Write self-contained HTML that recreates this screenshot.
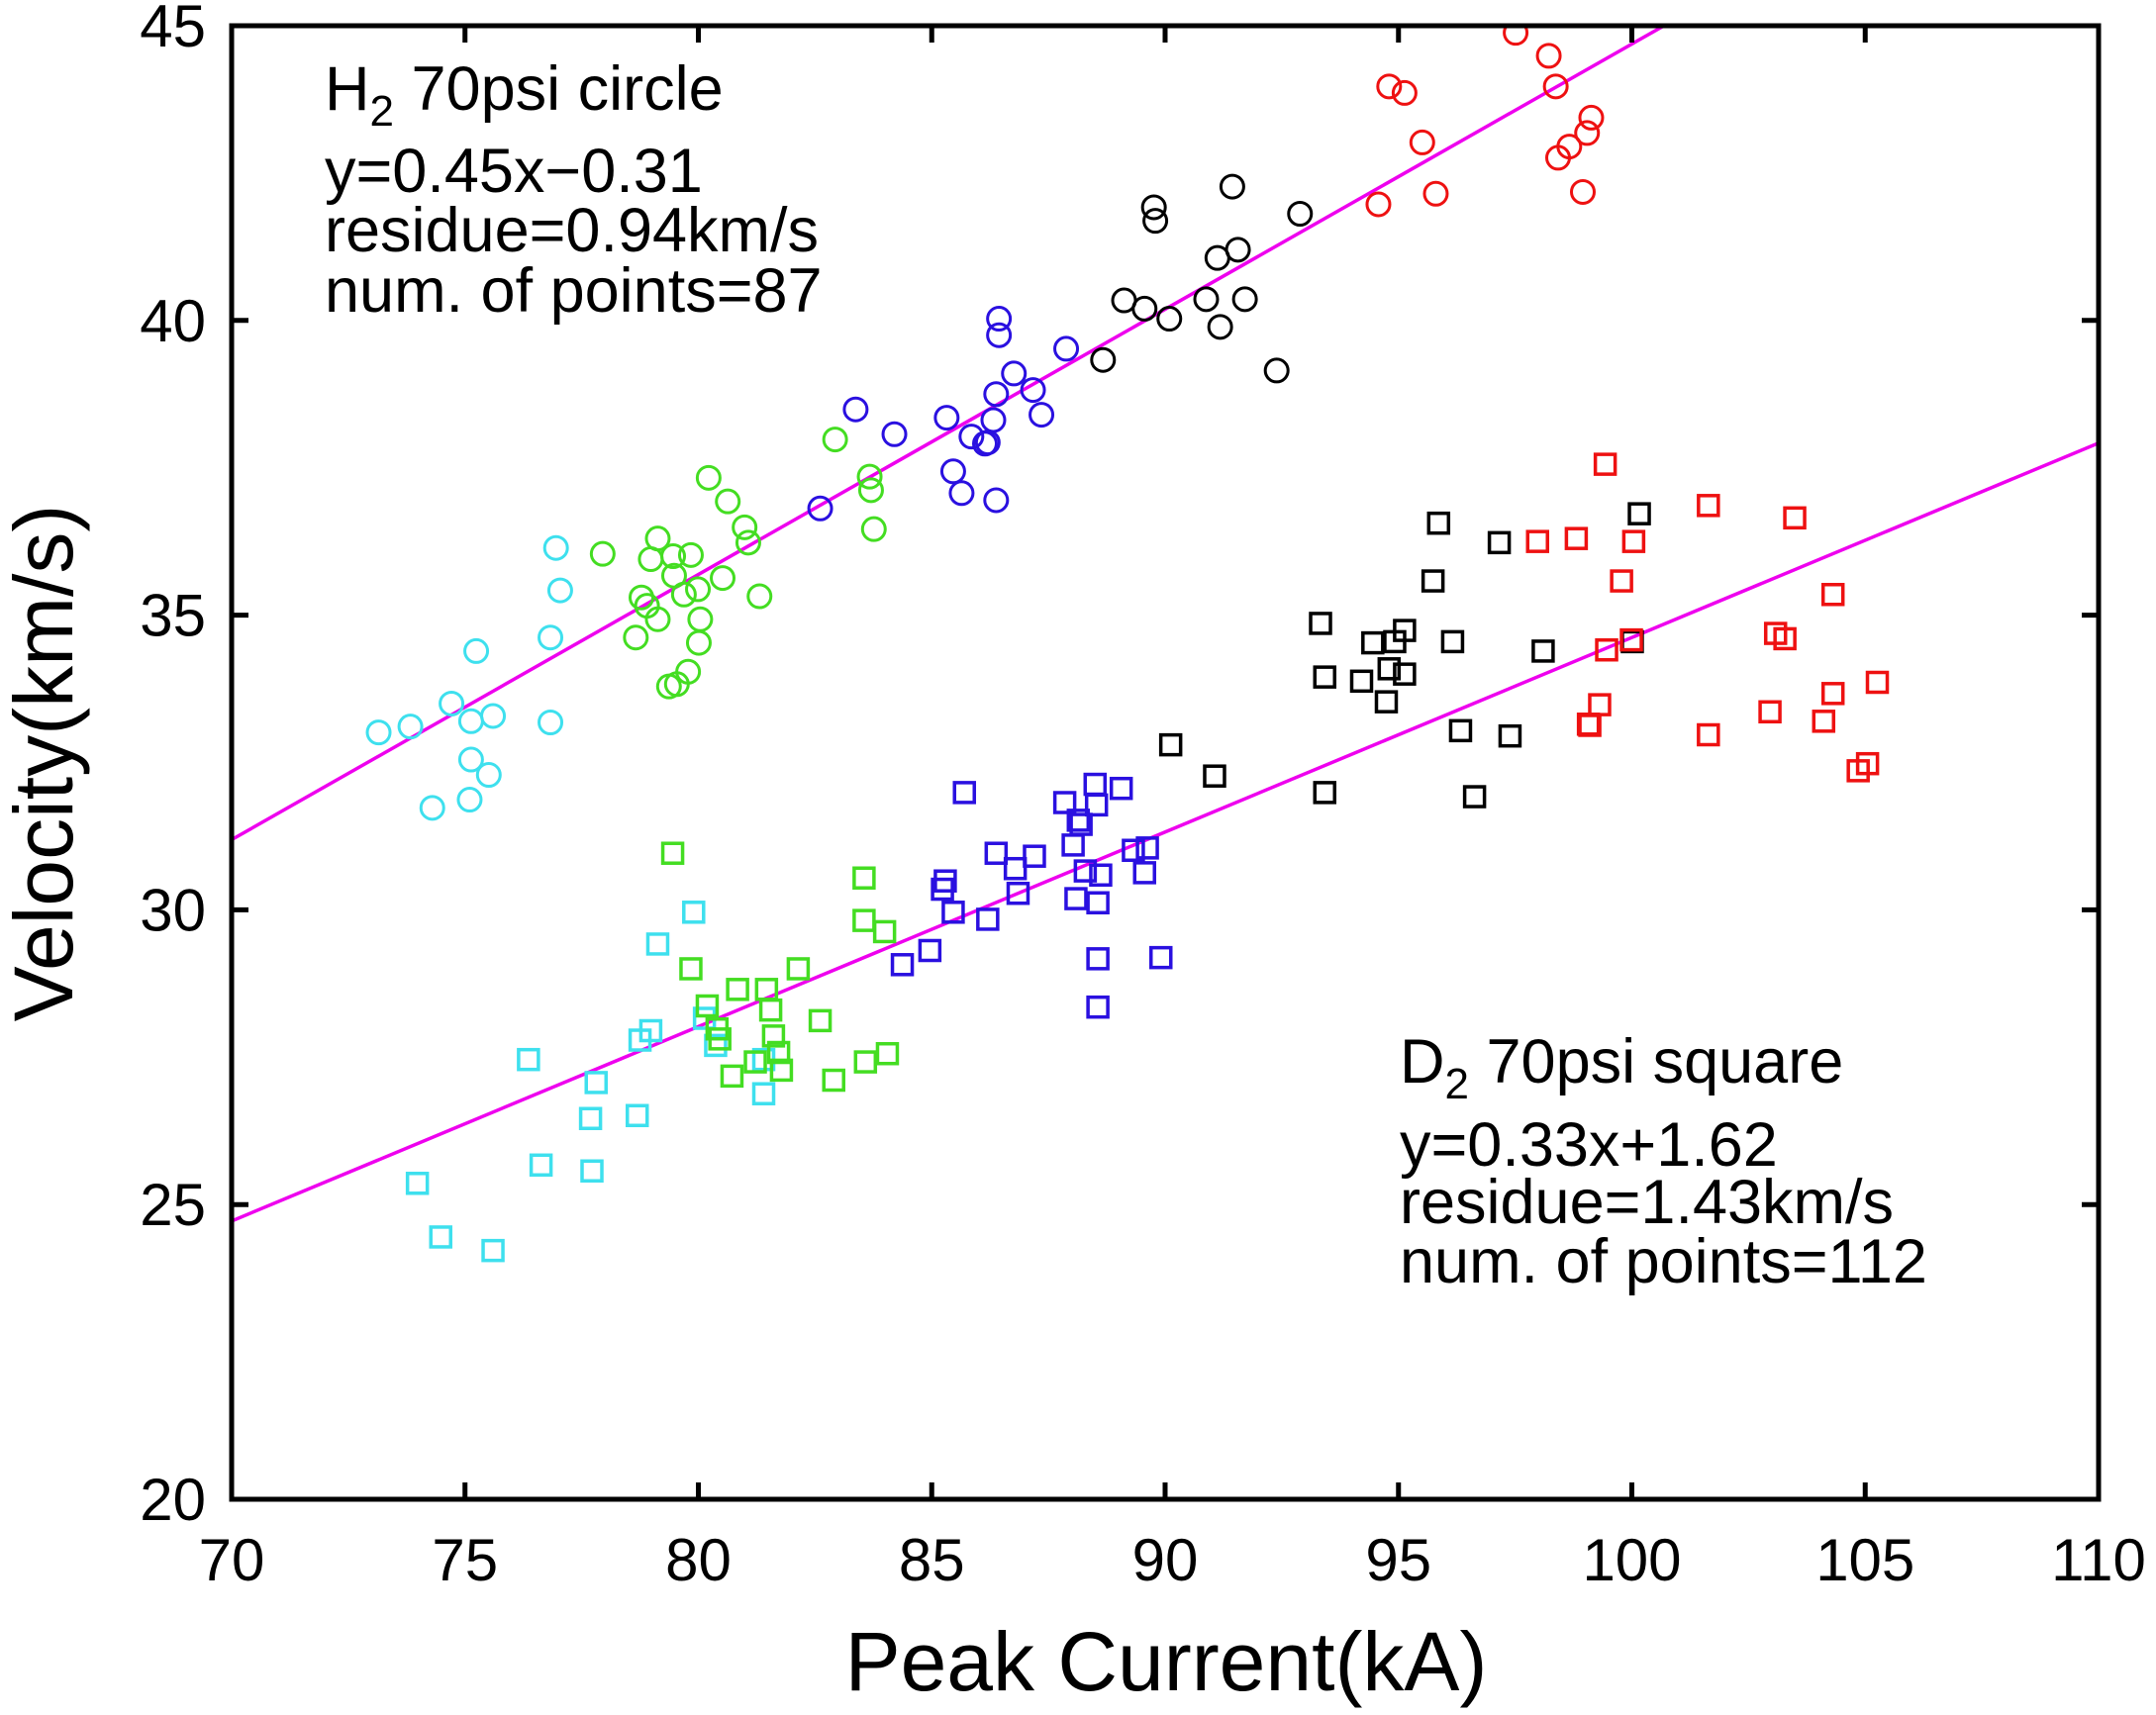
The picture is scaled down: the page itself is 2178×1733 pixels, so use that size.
<!DOCTYPE html>
<html><head><meta charset="utf-8"><style>
html,body{margin:0;padding:0;background:#fff;}
svg{display:block;font-family:"Liberation Sans",Arial,sans-serif;}
</style></head><body>
<svg id="chart" width="2178" height="1733" viewBox="0 0 2178 1733" xmlns="http://www.w3.org/2000/svg">
<defs><clipPath id="plotclip"><rect x="234" y="26" width="1886" height="1489"/></clipPath></defs>
<g id="marks" clip-path="url(#plotclip)"></g>
<rect x="234" y="26" width="1886" height="1489" fill="none" stroke="#000" stroke-width="5"/>
<g id="axes"></g>
<text x="1178" y="1708" font-size="84" text-anchor="middle">Peak Current(kA)</text>
<text transform="translate(73,771) rotate(-90)" font-size="84" text-anchor="middle">Velocity(km/s)</text>
<g font-size="63">
<text x="328" y="111">H<tspan font-size="44" dy="16">2</tspan><tspan dy="-16"> 70psi circle</tspan></text>
<text x="328" y="194">y=0.45x−0.31</text>
<text x="328" y="254">residue=0.94km/s</text>
<text x="328" y="315">num. of points=87</text>
</g>
<g font-size="63">
<text x="1414" y="1094">D<tspan font-size="44" dy="16">2</tspan><tspan dy="-16"> 70psi square</tspan></text>
<text x="1414" y="1178">y=0.33x+1.62</text>
<text x="1414" y="1236">residue=1.43km/s</text>
<text x="1414" y="1296">num. of points=112</text>
</g>
</svg>
<script>
const xTicks=[70,75,80,85,90,95,100,105,110];
const yTicks=[20,25,30,35,40,45];
const h2Fit=[0.45,-0.31];
const d2Fit=[0.33,1.62];
const colors={cyan:"#3ee0ee",green:"#44dd22",blue:"#2a10e0",black:"#000000",red:"#ee1111"};
const h2Cyan=[[73.15,33.01],[73.83,33.11],[74.71,33.5],[75.24,34.39],[75.13,33.2],[75.6,33.29],[75.13,32.55],[75.51,32.29],[75.1,31.87],[74.3,31.73],[76.83,34.62],[76.95,36.14],[77.04,35.42],[76.83,33.18]];
const h2Green=[[77.95,36.04],[78.78,35.3],[78.9,35.16],[78.66,34.62],[79.13,36.3],[78.98,35.95],[79.46,36.0],[79.48,35.67],[79.13,34.93],[79.69,35.35],[79.84,36.02],[79.99,35.44],[80.22,37.33],[80.63,36.93],[80.99,36.49],[81.07,36.23],[81.31,35.32],[80.04,34.93],[80.01,34.53],[79.78,34.04],[79.54,33.83],[79.37,33.79],[82.93,37.98],[83.67,37.35],[83.7,37.12],[83.76,36.46],[80.52,35.63]];
const h2Blue=[[82.61,36.81],[83.37,38.49],[84.2,38.07],[85.32,38.35],[85.46,37.44],[85.64,37.07],[85.85,38.03],[86.14,37.91],[86.2,37.93],[86.32,38.31],[86.38,38.75],[86.44,39.75],[86.44,40.03],[86.38,36.95],[86.76,39.1],[87.17,38.82],[87.35,38.4],[87.88,39.52]];
const h2Black=[[88.67,39.33],[89.12,40.34],[89.56,40.2],[89.76,41.92],[89.79,41.69],[90.09,40.03],[90.88,40.36],[91.12,41.06],[91.18,39.89],[91.44,42.27],[91.56,41.2],[91.71,40.36],[92.39,39.15],[92.89,41.81]];
const h2Red=[[94.57,41.97],[94.8,43.97],[95.13,43.86],[95.51,43.02],[95.8,42.15],[97.51,44.88],[98.22,44.49],[98.37,43.97],[98.42,42.76],[98.66,42.95],[99.04,43.18],[99.13,43.44],[98.95,42.18]];
const d2Cyan=[[73.98,25.36],[74.48,24.45],[75.6,24.22],[76.36,27.46],[76.63,25.67],[77.72,25.57],[77.69,26.46],[77.81,27.07],[78.69,26.51],[78.75,27.79],[78.98,27.95],[79.13,29.42],[79.9,29.96],[80.13,28.16],[80.37,27.7],[81.4,26.88],[81.4,27.46]];
const d2Green=[[79.45,30.96],[79.84,29.0],[80.19,28.37],[80.4,27.98],[80.46,27.81],[80.72,27.18],[80.84,28.65],[81.22,27.42],[81.46,28.65],[81.55,28.3],[81.61,27.86],[81.72,27.58],[81.78,27.28],[82.14,29.0],[82.61,28.12],[82.9,27.11],[83.55,30.54],[83.55,29.82],[83.58,27.42],[83.99,29.63],[84.05,27.56]];
const d2Blue=[[84.37,29.07],[84.96,29.31],[85.23,30.35],[85.29,30.49],[85.46,29.96],[85.7,31.99],[86.2,29.84],[86.38,30.96],[86.79,30.7],[86.85,30.28],[87.2,30.91],[87.85,31.82],[88.03,31.1],[88.09,30.19],[88.14,31.52],[88.2,31.45],[88.29,30.66],[88.5,32.13],[88.53,31.78],[88.56,30.12],[88.62,30.59],[88.56,29.17],[88.56,28.35],[89.06,32.06],[89.32,31.01],[89.56,30.63],[89.62,31.05],[89.91,29.19]];
const d2Black=[[90.12,32.8],[91.06,32.27],[93.33,34.86],[93.42,33.95],[93.42,31.99],[94.21,33.88],[94.45,34.53],[94.74,33.53],[94.8,34.09],[94.92,34.55],[95.13,34.74],[95.13,34.0],[95.74,35.58],[95.86,36.56],[96.16,34.55],[96.33,33.04],[96.63,31.92],[97.16,36.23],[97.39,32.95],[98.1,34.39],[100.01,34.55],[100.16,36.72]];
const d2Red=[[97.98,36.25],[98.81,36.3],[99.43,37.56],[99.46,34.41],[99.31,33.48],[99.07,33.15],[99.1,33.13],[99.78,35.58],[100.04,36.25],[99.99,34.58],[101.64,36.86],[101.64,32.97],[102.96,33.36],[103.08,34.69],[103.28,34.6],[103.49,36.65],[104.11,33.2],[104.31,35.35],[104.31,33.67],[104.85,32.36],[105.05,32.48],[105.26,33.86]];

const NS="http://www.w3.org/2000/svg";
const X0=234,X1=2120,Y0=1515,Y1=26;
function sx(v){return X0+(v-70)/40*(X1-X0);}
function sy(v){return Y0-(v-20)/25*(Y0-Y1);}
const marks=document.getElementById('marks');
const axes=document.getElementById('axes');
function mk(tag,attrs,parent){const e=document.createElementNS(NS,tag);for(const k in attrs)e.setAttribute(k,attrs[k]);parent.appendChild(e);return e;}

xTicks.forEach(t=>{
  const x=sx(t);
  const a=mk('line',{x1:x,y1:Y0,x2:x,y2:Y0-17,stroke:'#000','stroke-width':5},axes);
  
  
  const b=mk('line',{x1:x,y1:Y1,x2:x,y2:Y1+17,stroke:'#000','stroke-width':5},axes);
  
  
  const l=mk('text',{x:x,y:1597,'font-size':60,'text-anchor':'middle'},axes);
  l.textContent=t;
  
  
});
yTicks.forEach(t=>{
  const y=sy(t);
  const a=mk('line',{x1:X0,y1:y,x2:X0+17,y2:y,stroke:'#000','stroke-width':5},axes);
  
  
  const b=mk('line',{x1:X1,y1:y,x2:X1-17,y2:y,stroke:'#000','stroke-width':5},axes);
  
  
  const l=mk('text',{x:208,y:y+21,'font-size':60,'text-anchor':'end'},axes);
  l.textContent=t;
  
  
});

function fitLine(f,name){
  const l=mk('line',{x1:sx(70),y1:sy(f[0]*70+f[1]),x2:sx(110),y2:sy(f[0]*110+f[1]),stroke:'#ee00ee','stroke-width':3.5},marks);
  
  
}
fitLine(h2Fit,'h2-fit-line');
fitLine(d2Fit,'d2-fit-line');

function circles(data,col,name){
  data.forEach(p=>{
    const c=mk('circle',{cx:sx(p[0]),cy:sy(p[1]),r:11.5,fill:'none',stroke:col,'stroke-width':3},marks);
    
    
  });
}
function squares(data,col,name){
  data.forEach(p=>{
    const r=mk('rect',{x:sx(p[0])-10,y:sy(p[1])-10,width:20,height:20,fill:'none',stroke:col,'stroke-width':3.5},marks);
    
    
  });
}
circles(h2Cyan,colors.cyan,'h2-point-cyan');
circles(h2Green,colors.green,'h2-point-green');
circles(h2Blue,colors.blue,'h2-point-blue');
circles(h2Black,colors.black,'h2-point-black');
circles(h2Red,colors.red,'h2-point-red');
squares(d2Cyan,colors.cyan,'d2-point-cyan');
squares(d2Green,colors.green,'d2-point-green');
squares(d2Blue,colors.blue,'d2-point-blue');
squares(d2Black,colors.black,'d2-point-black');
squares(d2Red,colors.red,'d2-point-red');
</script>
</body></html>
